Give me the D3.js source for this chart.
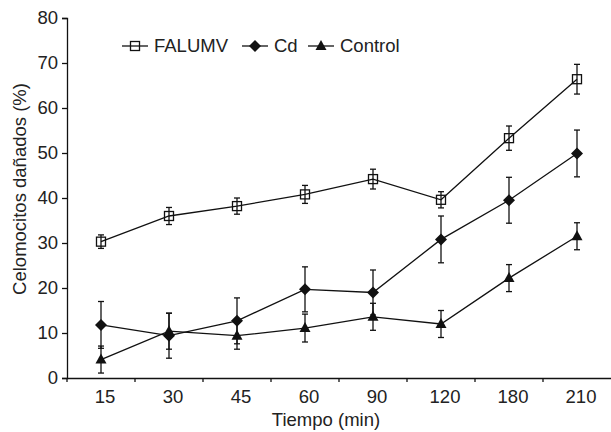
<!DOCTYPE html>
<html>
<head>
<meta charset="utf-8">
<script src="https://cdn.jsdelivr.net/npm/d3@7"></script>
<style>
  body { margin: 0; background: #fff; }
  svg { display: block; font-family: "Liberation Sans", Arial, sans-serif; }
</style>
</head>
<body>
<div id="chart"></div>
<script>
//categories on the x axis (minutes)
const tiempos = ['15', '30', '45', '60', '90', '120', '180', '210'];

//series means and error bars (% damaged celomocytes)
const falumv = [30.3, 36.0, 38.2, 40.8, 44.2, 39.6, 53.3, 66.4];
const falumvErr = [1.5, 1.9, 1.8, 2.0, 2.2, 1.8, 2.7, 3.3];
const cd = [11.8, 9.4, 12.7, 19.7, 19.0, 30.8, 39.5, 49.9];
const cdErr = [5.2, 5.0, 5.1, 5.0, 5.0, 5.2, 5.1, 5.2];
const control = [4.1, 10.4, 9.4, 11.1, 13.6, 12.0, 22.2, 31.5];
const controlErr = [3.0, 4.0, 3.0, 3.1, 3.0, 3.0, 3.0, 3.0];

const yTicks = [0, 10, 20, 30, 40, 50, 60, 70, 80];

const series = [
    { name: 'FALUMV', values: falumv, err: falumvErr, symbol: 'square' },
    { name: 'Cd', values: cd, err: cdErr, symbol: 'diamond' },
    { name: 'Control', values: control, err: controlErr, symbol: 'triangle' }
];

const W = 611, H = 432;
const plotLeft = 67, plotRight = 611, plotTop = 18, plotBottom = 378;
const fontSize = 18.5;

const svg = d3.select('#chart').append('svg')
    .attr('width', W).attr('height', H);

//scales
const x = d3.scaleBand().domain(tiempos).range([plotLeft, plotRight]);
const y = d3.scaleLinear().domain([0, 80]).range([plotBottom, plotTop]);

//draw one marker at (cx, cy)
function marker(g, type, cx, cy) {
    if (type === 'square') {
        g.append('rect')
            .attr('x', cx - 4.5).attr('y', cy - 4.5)
            .attr('width', 9).attr('height', 9)
            .attr('fill', 'none').attr('stroke', '#111').attr('stroke-width', 1.3);
    } else if (type === 'diamond') {
        g.append('path')
            .attr('d', `M${cx},${cy - 6}L${cx + 6},${cy}L${cx},${cy + 6}L${cx - 6},${cy}Z`)
            .attr('fill', '#111');
    } else {
        g.append('path')
            .attr('d', `M${cx},${cy - 6}L${cx + 5.5},${cy + 4}L${cx - 5.5},${cy + 4}Z`)
            .attr('fill', '#111');
    }
}

//axes
const yAxis = svg.append('g').attr('transform', `translate(${plotLeft},0)`)
    .call(d3.axisLeft(y).tickValues(yTicks).tickSize(5).tickPadding(4));
const xAxis = svg.append('g').attr('transform', `translate(0,${plotBottom})`)
    .call(d3.axisBottom(x).tickSize(0).tickPadding(12));
[yAxis, xAxis].forEach(a => {
    a.select('.domain').attr('stroke', '#111').attr('stroke-width', 1.3);
    a.selectAll('.tick line').attr('stroke', '#111').attr('stroke-width', 1.3);
    a.selectAll('text').attr('font-size', fontSize).attr('fill', '#222')
        .attr('font-family', '"Liberation Sans", Arial, sans-serif');
});
xAxis.selectAll('.tick text').attr('dx', 4);
//x ticks sit at the band boundaries
xAxis.selectAll('.bound')
    .data(tiempos)
  .enter().append('line')
    .attr('x1', d => x(d)).attr('x2', d => x(d))
    .attr('y1', 0).attr('y2', 4)
    .attr('stroke', '#111').attr('stroke-width', 1.3);

//axis titles
svg.append('text')
    .attr('x', 326).attr('y', 426)
    .attr('text-anchor', 'middle').attr('font-size', fontSize).attr('fill', '#222')
    .text('Tiempo (min)');
svg.append('text')
    .attr('transform', `translate(26,189) rotate(-90)`)
    .attr('text-anchor', 'middle').attr('font-size', fontSize).attr('fill', '#222')
    .text('Celomocitos dañados (%)');

//lines, error bars and markers
const line = d3.line()
    .x((d, i) => x(tiempos[i]) + x.bandwidth() / 2)
    .y(d => y(d));

series.forEach(s => {
    const g = svg.append('g');
    g.append('path')
        .attr('d', line(s.values))
        .attr('fill', 'none').attr('stroke', '#111').attr('stroke-width', 1.3);
    s.values.forEach((v, i) => {
        const cx = x(tiempos[i]) + x.bandwidth() / 2;
        const y1 = y(v + s.err[i]), y2 = y(v - s.err[i]);
        g.append('line').attr('x1', cx).attr('x2', cx).attr('y1', y1).attr('y2', y2)
            .attr('stroke', '#111').attr('stroke-width', 1.3);
        [y1, y2].forEach(yy => {
            g.append('line').attr('x1', cx - 3).attr('x2', cx + 3).attr('y1', yy).attr('y2', yy)
                .attr('stroke', '#111').attr('stroke-width', 1.3);
        });
        marker(g, s.symbol, cx, y(v));
    });
});

//legend
const legendX = [122, 242, 308];
const legendY = 46;
series.forEach((s, i) => {
    const g = svg.append('g');
    const lx = legendX[i];
    g.append('line').attr('x1', lx).attr('x2', lx + 26).attr('y1', legendY).attr('y2', legendY)
        .attr('stroke', '#111').attr('stroke-width', 1.3);
    marker(g, s.symbol, lx + 13, legendY);
    g.append('text').attr('x', lx + 32).attr('y', legendY + 6)
        .attr('font-size', fontSize).attr('fill', '#222').text(s.name);
});
</script>
</body>
</html>
